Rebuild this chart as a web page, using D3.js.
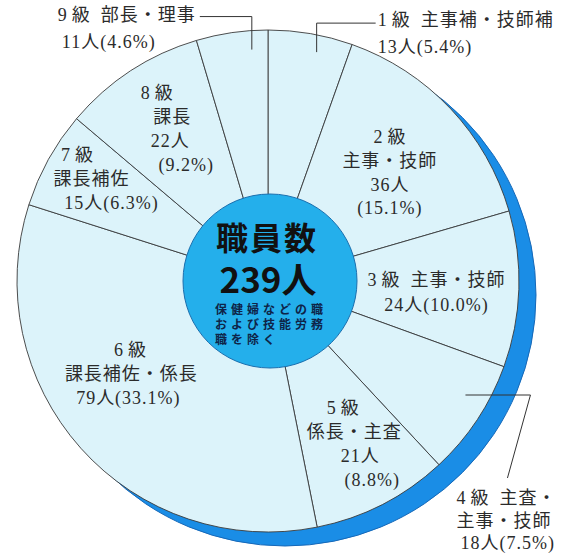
<!DOCTYPE html>
<html>
<head>
<meta charset="utf-8">
<script src="https://cdn.jsdelivr.net/npm/d3@7"></script>
<style>
body { margin: 0; background: #fff; }
text { fill: #2b2b2b; }
</style>
</head>
<body>
<svg width="573" height="555"></svg>
<script>
// data
var grades = ["1級", "2級", "3級", "4級", "5級", "6級", "7級", "8級", "9級"];
var titles = ["主事補・技師補", "主事・技師", "主事・技師", "主査・主事・技師", "係長・主査",
              "課長補佐・係長", "課長補佐", "課長", "部長・理事"];
var counts = [13, 36, 24, 18, 21, 79, 15, 22, 11];
var percents = ["5.4", "15.1", "10.0", "7.5", "8.8", "33.1", "6.3", "9.2", "4.6"];
var totalLabel = ["職員数", "239人"];
var note = ["保健婦などの職", "および技能労務", "職を除く"];

var svg = d3.select("svg"),
    cx = 268, cy = 281,
    radius = 251,
    innerR = 87;

var pie = d3.pie().sort(null).value(function(d) { return d; });
var arcs = pie(counts);
var arc = d3.arc().innerRadius(0).outerRadius(radius);

function polar(deg, r) {
  var a = deg * Math.PI / 180;
  return [cx + r * Math.sin(a), cy - r * Math.cos(a)];
}
function midDeg(i) {
  return (arcs[i].startAngle + arcs[i].endAngle) / 2 * 180 / Math.PI;
}

// text of each label, broken into lines
function lines(i, form) {
  var g = grades[i], t = titles[i], n = counts[i] + "人", p = "(" + percents[i] + "%)";
  if (form == "wide") return [g + "\u2002" + t, n + p];
  if (form == "tall") return [g, t, n, p];
  if (form == "mid") return [g, t, n + p];
  // split title after first dot
  var k = t.indexOf("・") + 1;
  return [g + "\u2002" + t.slice(0, k), t.slice(k), n + p];
}

// label layout inside the slices
var inside = [
  { i: 1, form: "tall", da: 1.7, r: 163, gap: 23.7, dx: [0, 0, 0, 0] },
  { i: 2, form: "wide", da: 2, r: 169, gap: 25, dx: [0, 0] },
  { i: 4, form: "tall", da: -1, r: 185, gap: 24, dx: [-12, -1, 5, 17] },
  { i: 5, form: "mid", da: 7.8, r: 166, gap: 24, dx: [0, 1, -2] },
  { i: 6, form: "mid", da: 1.2, r: 202, gap: 24, dx: [-16, -2, 18] },
  { i: 7, form: "tall", da: 0.6, r: 180, gap: 24, dx: [-14, 1, -1, 15] }
];

// leaders for the small slices
var outside = [
  { i: 8, form: "wide", ang: -4, r: 232, steps: [[0, -33], [-52, 0]], anchor: "end", tx: -4, ty: -2, gap: 27, dx: [0, 0] },
  { i: 0, form: "wide", ang: 12, r: 234, steps: [[0, -29], [59, 0]], anchor: "start", tx: 2, ty: -3, gap: 27, dx: [0, 0] },
  { i: 3, form: "split", ang: 120, r: 228, steps: [[65, 0], [-23, 83]], anchor: "start", tx: -51, ty: 20, gap: 22.5, dx: [0, 0, 4] }
];

// blue shadow crescent
svg.append("circle")
  .attr("cx", cx + 17).attr("cy", cy + 14).attr("r", radius)
  .attr("fill", "#1a8de6").attr("stroke", "#1668b8").attr("stroke-width", 1);

var g = svg.append("g").attr("transform", "translate(" + cx + "," + cy + ")");
g.selectAll(".slice")
  .data(arcs)
  .enter().append("path")
  .attr("class", "slice")
  .attr("d", arc)
  .attr("fill", "#dcf3fa")
  .attr("stroke", "#3a3a3a")
  .attr("stroke-width", 0.9);

svg.append("circle")
  .attr("cx", cx + 2).attr("cy", cy).attr("r", innerR)
  .attr("fill", "#24afeb").attr("stroke", "#1b6fae").attr("stroke-width", 1);

function writeLine(t, s) {
  var m = s.match(/^(\d)(級.*)$/);
  if (m) {
    t.append("tspan").text(m[1]);
    t.append("tspan").attr("dx", 4).text(m[2]);
  } else {
    t.text(s);
  }
}

var labelFont = "'Liberation Serif', 'Noto Sans CJK JP', serif";

inside.forEach(function(L) {
  var ls = lines(L.i, L.form);
  var c = polar(midDeg(L.i) + L.da, L.r);
  var y0 = c[1] - (ls.length - 1) * L.gap / 2;
  ls.forEach(function(s, k) {
    var t = svg.append("text")
      .attr("x", c[0] + L.dx[k]).attr("y", y0 + k * L.gap)
      .attr("text-anchor", "middle")
      .attr("dominant-baseline", "central")
      .style("font-family", labelFont)
      .style("font-size", "18px")
      .style("letter-spacing", "1px");
    writeLine(t, s);
  });
});

outside.forEach(function(L) {
  var pts = [polar(L.ang, L.r)];
  L.steps.forEach(function(s) {
    var q = pts[pts.length - 1];
    pts.push([q[0] + s[0], q[1] + s[1]]);
  });
  svg.append("path")
    .attr("d", d3.line()(pts))
    .attr("fill", "none")
    .attr("stroke", "#333")
    .attr("stroke-width", 1);
  var end = pts[pts.length - 1];
  var ls = lines(L.i, L.form);
  var x0 = end[0] + L.tx, y0 = end[1] + L.ty;
  var first = null;
  ls.forEach(function(s, k) {
    var t = svg.append("text")
      .attr("y", y0 + k * L.gap)
      .attr("dominant-baseline", "central")
      .style("font-family", labelFont)
      .style("font-size", "18px")
      .style("letter-spacing", "1px");
    writeLine(t, s);
    if (k == 0) {
      t.attr("x", x0).attr("text-anchor", L.anchor);
      first = t;
    } else {
      // later lines line up with the start of the first one
      var startX = L.anchor == "end" ? x0 - first.node().getComputedTextLength() : x0;
      t.attr("x", startX + L.dx[k]).attr("text-anchor", "start");
    }
  });
});

// centre text
svg.append("text")
  .attr("x", cx - 1).attr("y", cy - 45)
  .attr("text-anchor", "middle").attr("dominant-baseline", "central")
  .style("font-family", "'Noto Sans CJK JP', sans-serif")
  .style("font-weight", "bold").style("font-size", "32px").style("letter-spacing", "2px")
  .style("fill", "#111")
  .text(totalLabel[0]);
svg.append("text")
  .attr("x", cx).attr("y", cy - 4)
  .attr("text-anchor", "middle").attr("dominant-baseline", "central")
  .style("font-family", "'Noto Sans CJK JP', sans-serif")
  .style("font-weight", "bold").style("font-size", "35px")
  .style("fill", "#111")
  .text(totalLabel[1]);
note.forEach(function(s, k) {
  svg.append("text")
    .attr("x", cx - 53).attr("y", cy + 27 + k * 15)
    .attr("dominant-baseline", "central")
    .style("font-family", "'Noto Sans CJK JP', sans-serif")
    .style("font-weight", "bold").style("font-size", "12px").style("letter-spacing", "4px")
    .style("fill", "#0e2448")
    .text(s);
});
</script>
</body>
</html>
